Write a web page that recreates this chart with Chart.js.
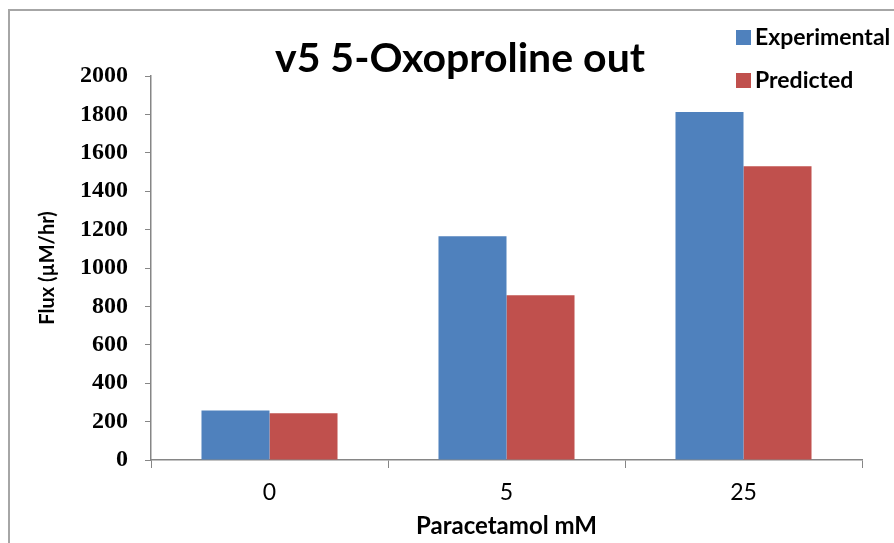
<!DOCTYPE html>
<html>
<head>
<meta charset="utf-8">
<script src="https://cdn.jsdelivr.net/npm/chart.js@4"></script>
<style>
  html, body { margin: 0; padding: 0; background: #fff; }
  #wrap { position: relative; width: 894px; height: 543px; overflow: hidden; }
  #frame { position: absolute; left: 8px; top: 9px; width: 900px; height: 560px;
           border-left: 2px solid #a6a6a6; border-top: 2px solid #a6a6a6; box-sizing: border-box; }
  canvas { position: absolute; left: 0; top: 0; }
</style>
</head>
<body>
<div id="wrap">
  <div id="frame"></div>
  <canvas id="c" width="894" height="543"></canvas>
</div>
<script>
const chartTitle = "v5 5-Oxoproline out";
const categories = ["0", "5", "25"];
const experimental = [258, 1165, 1812];
const predicted = [243, 858, 1530];
const yTicks = [0, 200, 400, 600, 800, 1000, 1200, 1400, 1600, 1800, 2000];
const xTitle = "Paracetamol mM";
const yTitle = "Flux (\u00b5M/hr)";

const BLUE = "#4F81BD";
const RED = "#C0504D";
const AXIS = "#868686";

const overlay = {
  id: "overlay",
  afterDraw(chart) {
    const ctx = chart.ctx;
    ctx.save();
    ctx.fillStyle = "#000";
    ctx.font = "bold 41px Lato";
    ctx.textAlign = "center";
    ctx.textBaseline = "alphabetic";
    ctx.fillText(chartTitle, 460, 72);
    // legend
    ctx.font = "bold 23px Lato";
    ctx.textAlign = "left";
    ctx.textBaseline = "middle";
    const rows = [38, 81];
    chart.data.datasets.forEach((ds, i) => {
      const y = rows[i];
      ctx.fillStyle = ds.backgroundColor;
      ctx.fillRect(736, y - 8, 15, 15);
      ctx.fillStyle = "#000";
      ctx.fillText(ds.label, 755, y);
    });
    ctx.restore();
  }
};

new Chart(document.getElementById("c"), {
  type: "bar",
  data: {
    labels: categories,
    datasets: [
      { label: "Experimental", data: experimental, backgroundColor: BLUE, borderWidth: 0 },
      { label: "Predicted", data: predicted, backgroundColor: RED, borderWidth: 0 }
    ]
  },
  options: {
    responsive: false,
    animation: false,
    devicePixelRatio: 1,
    layout: { padding: { top: 76, right: 32, left: 0, bottom: 0 } },
    categoryPercentage: 0.574,
    barPercentage: 1.0,
    plugins: { legend: { display: false }, title: { display: false }, tooltip: { enabled: false } },
    scales: {
      x: {
        grid: { display: true, drawOnChartArea: false, color: AXIS, tickLength: 8, offset: true },
        border: { display: true, color: AXIS, width: 1.5 },
        ticks: { color: "#000", font: { family: "Lato", size: 23 }, padding: 11, maxRotation: 0 },
        title: { display: true, text: xTitle, color: "#000", font: { family: "Lato", size: 24, weight: "bold" }, padding: { top: 0, bottom: 2 } },
        afterFit(s) { s.height = 83; }
      },
      y: {
        min: 0, max: 2000,
        afterBuildTicks(s) { s.ticks = yTicks.map(v => ({ value: v })); },
        grid: { display: true, drawOnChartArea: false, color: AXIS, tickLength: 6 },
        border: { display: true, color: AXIS, width: 1.5 },
        ticks: { color: "#000", font: { family: "Liberation Serif", size: 24, weight: "bold" }, padding: 17,
                 callback: v => String(v) },
        title: { display: true, text: yTitle, color: "#000", font: { family: "Lato", size: 20, weight: "bold" }, padding: { top: 36, bottom: 0 } },
        afterFit(s) { s.width = 151; }
      }
    }
  },
  plugins: [overlay]
});
</script>
</body>
</html>
